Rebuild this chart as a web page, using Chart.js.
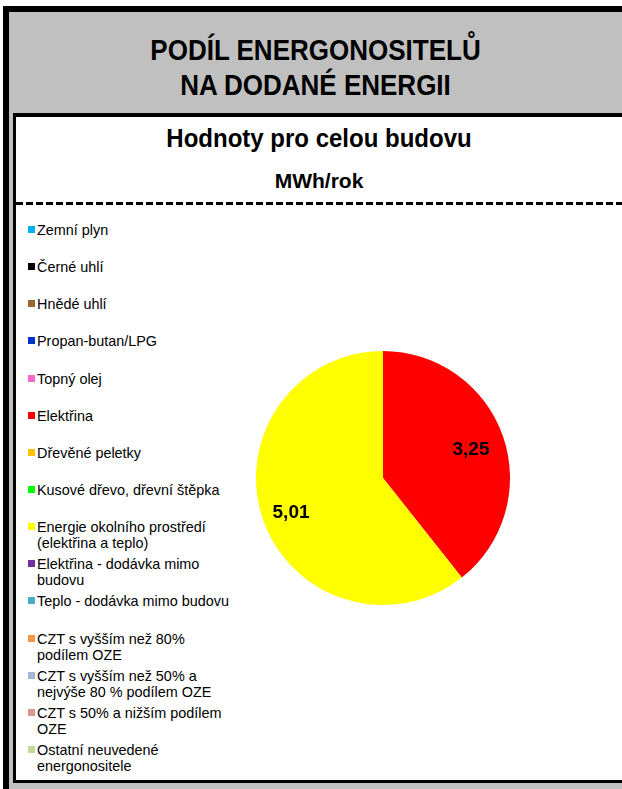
<!DOCTYPE html>
<html>
<head>
<meta charset="utf-8">
<script src="https://cdn.jsdelivr.net/npm/chart.js@4.4.0/dist/chart.umd.min.js"></script>
<style>
  html, body { margin: 0; padding: 0; background: #fff; }
  body { width: 622px; height: 789px; position: relative; overflow: hidden; font-family: "Liberation Sans", Arial, sans-serif; }
  .abs { position: absolute; }
  #outer { left: 3px; top: 6px; right: 0; bottom: 0; background: #000; }
  #frame { left: 9px; top: 12px; right: 0; bottom: 0; background: #c0c0c0; }
  #panel { left: 13px; top: 113px; right: 0; bottom: 6px; background: #000; }
  #panelIn { left: 16px; top: 117px; right: 0; bottom: 9px; background: #fff; }
  #title { left: 9px; right: 0; top: 33px; text-align: center; font-weight: bold; font-size: 26px; line-height: 31px; color: #000;
    transform: scaleY(1.13); transform-origin: 50% 0; }
  #sub { left: 16px; right: 0; top: 124px; text-align: center; font-weight: bold; font-size: 24px; line-height: 26px;
    transform: scaleY(1.08); transform-origin: 50% 0; }
  #unit { left: 16px; right: 0; top: 170px; text-align: center; font-weight: bold; font-size: 21px; line-height: 22px; }
  #dash { left: 16px; right: 0; top: 202px; height: 3px;
    background: repeating-linear-gradient(90deg, #000 0 7px, transparent 7px 10px); }
  .item { position: absolute; left: 28px; width: 215px; font-size: 14.4px; line-height: 16px; color: #000; white-space: pre-line; }
  .box { position: absolute; left: 0; top: 4px; width: 7px; height: 7px; }
  .txt { position: absolute; left: 9px; top: 0; width: 210px; }
  #pie { left: 256px; top: 351px; }
</style>
</head>
<body>
<div class="abs" id="outer"></div>
<div class="abs" id="frame"></div>
<div class="abs" id="panel"></div>
<div class="abs" id="panelIn"></div>
<div class="abs" id="title">PODÍL ENERGONOSITELŮ<br>NA DODANÉ ENERGII</div>
<div class="abs" id="sub">Hodnoty pro celou budovu</div>
<div class="abs" id="unit">MWh/rok</div>
<div class="abs" id="dash"></div>
<div id="legend"></div>
<canvas class="abs" id="pie" width="254" height="254"></canvas>
<script>
const categories = [
  'Zemní plyn',
  'Černé uhlí',
  'Hnědé uhlí',
  'Propan-butan/LPG',
  'Topný olej',
  'Elektřina',
  'Dřevěné peletky',
  'Kusové dřevo, dřevní štěpka',
  'Energie okolního prostředí\n(elektřina a teplo)',
  'Elektřina - dodávka mimo\nbudovu',
  'Teplo - dodávka mimo budovu',
  'CZT s vyšším než 80%\npodílem OZE',
  'CZT  s vyšším než 50% a\nnejvýše 80 % podílem OZE',
  'CZT s 50% a nižším podílem\nOZE',
  'Ostatní neuvedené\nenergonositele'
];
const values = [0, 0, 0, 0, 0, 3.25, 0, 0, 5.01, 0, 0, 0, 0, 0, 0];
const colors = [
  '#00b0f0', '#000000', '#996633', '#0033cc', '#ff66cc',
  '#ff0000', '#ffc000', '#00ff00', '#ffff00', '#7030a0',
  '#4bacc6', '#f79646', '#a6b6d8', '#d99694', '#c3d69b'
];

// legend built as html next to the pie
const legend = document.getElementById('legend');
categories.forEach((name, i) => {
  const el = document.createElement('div');
  el.className = 'item';
  el.style.top = (222 + i * 37.14) + 'px';
  el.innerHTML = '<div class="box" style="background:' + colors[i] + '"></div>';
  const t = document.createElement('div');
  t.className = 'txt';
  t.textContent = name;
  el.appendChild(t);
  legend.appendChild(el);
});

const valueLabels = {
  id: 'valueLabels',
  afterDatasetsDraw(chart) {
    const ctx = chart.ctx;
    const meta = chart.getDatasetMeta(0);
    ctx.save();
    ctx.font = 'bold 19px "Liberation Sans", Arial, sans-serif';
    ctx.fillStyle = '#000';
    ctx.textAlign = 'center';
    ctx.textBaseline = 'middle';
    meta.data.forEach((arc, i) => {
      const v = values[i];
      if (!v) return;
      const p = arc.getProps(['x', 'y', 'startAngle', 'endAngle', 'outerRadius'], true);
      const mid = (p.startAngle + p.endAngle) / 2;
      const r = p.outerRadius * 0.75;
      ctx.fillText(v.toFixed(2).replace('.', ','), p.x + Math.cos(mid) * r - 2, p.y + Math.sin(mid) * r + 3);
    });
    ctx.restore();
  }
};

new Chart(document.getElementById('pie').getContext('2d'), {
  type: 'pie',
  data: {
    labels: categories,
    datasets: [{
      data: values,
      backgroundColor: colors,
      borderWidth: 0
    }]
  },
  options: {
    responsive: false,
    animation: false,
    devicePixelRatio: 1,
    plugins: {
      legend: { display: false },
      tooltip: { enabled: false }
    }
  },
  plugins: [valueLabels]
});
</script>
</body>
</html>
